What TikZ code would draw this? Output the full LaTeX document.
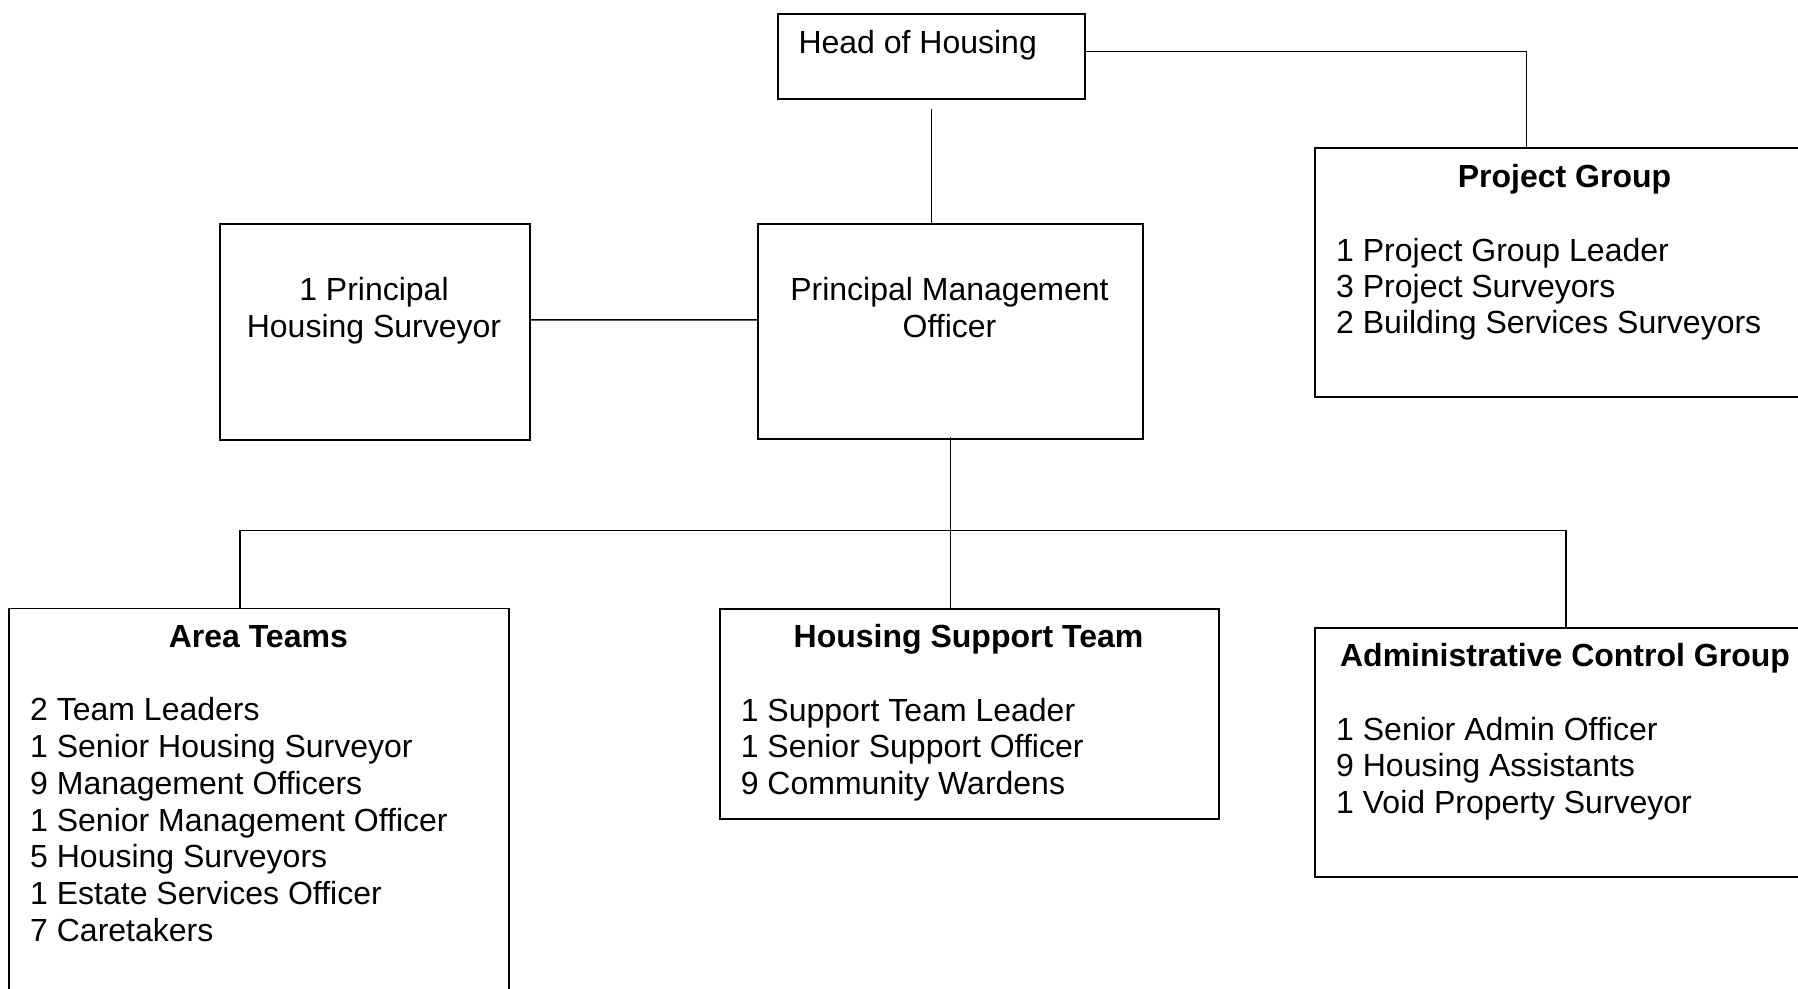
\documentclass[tikz,border=0pt]{standalone}
\usepackage{fontspec}
\setmainfont{Liberation Sans}
\usetikzlibrary{calc}

\tikzset{
  box/.style={draw,line width=1.9pt,rectangle,anchor=north west,inner sep=0pt},
  link/.style={line width=1.5pt},
  txt/.style={inner sep=0pt,font=\fontsize{32}{36.75}\selectfont},
  ttl/.style={txt,font=\fontsize{32}{36.75}\selectfont\bfseries,anchor=base},
  itm/.style={txt,anchor=base west}
}

\begin{document}
\begin{tikzpicture}[x=1pt,y=-1pt]
\path[use as bounding box,clip] (0,0) rectangle (1798,988);

\node[box,minimum width=307.3pt,minimum height=85.6pt] (head) at (776.7,12.7) {};
\node[itm] (head-t) at (798.3,53.3) {Head of Housing};

\node[box,minimum width=310pt,minimum height=215.4pt] (phs) at (219,223.3) {};
\node[txt,anchor=base] (phs-1) at (374,300.7) {1 Principal};
\node[txt,anchor=base] (phs-2) at (374,337.7) {Housing Surveyor};

\node[box,minimum width=384.4pt,minimum height=215pt] (pmo) at (757.3,223.3) {};
\node[txt,anchor=base] (pmo-1) at (949.5,300.7) {Principal Management};
\node[txt,anchor=base] (pmo-2) at (949.5,337.7) {Officer};

\node[box,minimum width=501pt,minimum height=249.3pt] (proj) at (1314,146.7) {};
\node[ttl] (proj-t) at (1564.5,187.3) {Project Group};
\foreach \t [count=\k] in {1 Project Group Leader,3 Project Surveyors,2 Building Services Surveyors}
  \node[itm] (proj-\k) at (1336,{261+36.25*(\k-1)}) {\t};

\node[box,minimum width=500pt,minimum height=400pt] (area) at (8.3,607.5) {};
\node[ttl] (area-t) at (258.3,647.3) {Area Teams};
\foreach \t [count=\k] in {2 Team Leaders,1 Senior Housing Surveyor,9 Management Officers,1 Senior Management Officer,5 Housing Surveyors,1 Estate Services Officer,7 Caretakers}
  \node[itm] (area-\k) at (30,{720.7+36.8*(\k-1)}) {\t};

\node[box,minimum width=499pt,minimum height=210.6pt] (hst) at (719,607.7) {};
\node[ttl] (hst-t) at (968.5,647.3) {Housing Support Team};
\foreach \t [count=\k] in {1 Support Team Leader,1 Senior Support Officer,9 Community Wardens}
  \node[itm] (hst-\k) at (740.6,{721+36.5*(\k-1)}) {\t};

\node[box,minimum width=502pt,minimum height=249.3pt] (admin) at (1314,626.7) {};
\node[ttl] (admin-t) at (1565,666.7) {Administrative Control Group};
\foreach \t [count=\k] in {1 Senior Admin Officer,9 Housing Assistants,1 Void Property Surveyor}
  \node[itm] (admin-\k) at (1336,{740+36.65*(\k-1)}) {\t};

\coordinate (bar) at (0,530.7);

\draw[link] ([yshift=4.8pt]head.east) -| ([xshift=-39pt]proj.north);
\draw[link] ([yshift=-9pt]head.south) -- (head.south |- pmo.north);
\draw[link] ([yshift=12pt]phs.east) -- ([yshift=12pt]pmo.west);
\draw[link] ([yshift=3pt]pmo.south) -- (pmo.south |- hst.north);
\draw[link] ([xshift=-19.3pt]area.north) |- (pmo.south |- bar) -| (admin.north);
\end{tikzpicture}
\end{document}
